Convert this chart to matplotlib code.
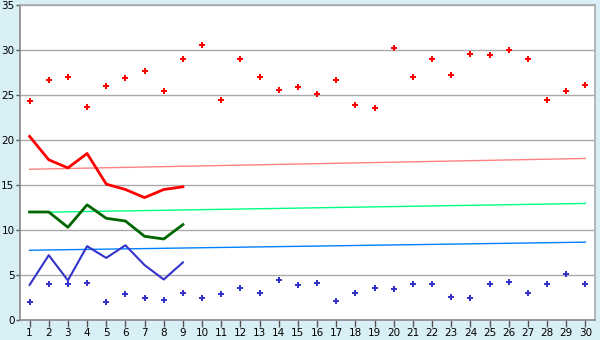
import numpy as np
import matplotlib.pyplot as plt

# values
days = np.arange(1, 31)
red_pts = [24.3, 26.7, 27.0, 23.7, 26.0, 26.9, 27.7, 25.4, 29.0, 30.6,
           24.4, 29.0, 27.0, 25.6, 25.9, 25.1, 26.7, 23.9, 23.6, 30.2,
           27.0, 29.0, 27.2, 29.6, 29.4, 30.0, 29.0, 24.4, 25.5, 26.1]
blue_pts = [2.0, 4.0, 4.0, 4.1, 2.0, 2.9, 2.4, 2.2, 3.0, 2.5,
            2.9, 3.6, 3.0, 4.4, 3.9, 4.1, 2.1, 3.0, 3.6, 3.4,
            4.0, 4.0, 2.6, 2.5, 4.0, 4.2, 3.0, 4.0, 5.1, 4.0]
line_days = np.arange(1, 10)
red_line = [20.4, 17.8, 16.9, 18.5, 15.1, 14.5, 13.6, 14.5, 14.8]
green_line = [12.0, 12.0, 10.3, 12.8, 11.3, 11.0, 9.3, 9.0, 10.6]
blue_line = [3.9, 7.2, 4.4, 8.2, 6.9, 8.3, 6.1, 4.5, 6.4]
trend_x = [1, 30]
red_trend = [16.75, 17.95]
green_trend = [11.95, 12.95]
blue_trend = [7.75, 8.65]

bg = '#d9eff6'
grid_col = '#aaaaaa'

fig = plt.figure(figsize=(6, 3.4), dpi=100, facecolor=bg)
ax = fig.add_axes([20/600, 1 - 320/340, 575/600, 315/340])
ax.set_facecolor('white')

for v in range(5, 40, 5):
    ax.axhline(v, color=grid_col, lw=1, zorder=1)

ax.plot(trend_x, red_trend, color='#ff8080', lw=1, zorder=2)
ax.plot(trend_x, green_trend, color='#00ff80', lw=1, zorder=2)
ax.plot(trend_x, blue_trend, color='#0080ff', lw=1, zorder=2)

ax.plot(line_days, red_line, color='#ff0000', lw=2, zorder=3)
ax.plot(line_days, green_line, color='#006600', lw=2, zorder=3)
ax.plot(line_days, blue_line, color='#3333cc', lw=1.5, zorder=3)

ax.plot(days, red_pts, 'P', color='#ff0000', ms=5, mew=0, ls='none', zorder=4)
ax.plot(days, blue_pts, 'P', color='#3333cc', ms=5, mew=0, ls='none', zorder=4)

ax.set_xlim(0.5, 30.5)
ax.set_ylim(0, 35)
ax.set_xticks(days)
ax.set_yticks(range(0, 40, 5))
ax.tick_params(axis='both', colors='black', labelsize=7.5, width=1)
ax.tick_params(axis='y', length=3, pad=1)
ax.tick_params(axis='x', length=5, pad=1)
ax.tick_params(axis='both', color='#555555')
for s in ax.spines.values():
    s.set_color(grid_col)
    s.set_linewidth(1.2)
ax.spines['left'].set_color('#888888')
ax.spines['bottom'].set_color('#888888')

fig.savefig('out.png', dpi=100, facecolor=bg)
